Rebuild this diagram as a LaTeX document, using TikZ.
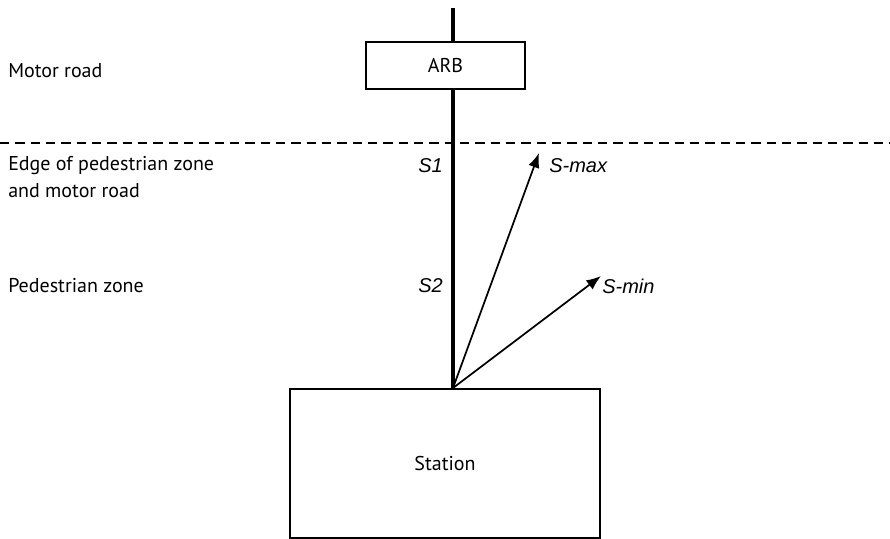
\documentclass[tikz,border=0pt]{standalone}
\usepackage{fontspec}
\setmainfont{PT Sans}
\newfontfamily\labelfont{Liberation Sans}
\usetikzlibrary{arrows.meta,positioning}
\tikzset{
  zonetext/.style={anchor=west, align=left, font=\fontsize{15}{20}\selectfont, inner sep=0pt},
  unitbox/.style={draw, fill=white, line width=1.7pt, font=\fontsize{15}{18}\selectfont, inner sep=0pt},
  sigtext/.style={font=\labelfont\itshape\fontsize{15}{18}\selectfont, inner sep=0pt},
  reach/.style={line width=1.3pt, -{Latex[length=11pt,width=8.5pt]}}
}
\begin{document}
\begin{tikzpicture}[x=0.75pt,y=-0.75pt]
  \useasboundingbox (0,0) rectangle (890,539);

  % zones on the left
  \node[zonetext] (motor) at (8,71) {Motor road};
  \node[zonetext] (edge) at (8,177) {Edge of pedestrian zone\\and motor road};
  \node[zonetext] (pedzone) at (8,286) {Pedestrian zone};
  \draw[line width=1pt, dash pattern=on 7pt off 4.5pt] (0,143) -- (890,143);

  % mast and units
  \coordinate (top) at (453,8);
  \coordinate (foot) at (453,388);
  \draw[line width=2.6pt] (top) -- (foot);
  \node[unitbox, minimum width=119pt, minimum height=35pt] (arb) at (445.5,65.5) {ARB};
  \node[unitbox, minimum width=232pt, minimum height=112pt, anchor=north] (station) at (445,388) {Station};

  % ranges
  \coordinate (smax) at (539,153);
  \coordinate (smin) at (601,276);
  \draw[reach] (foot) -- (smax);
  \draw[reach] (foot) -- (smin);
  \node[sigtext, anchor=west] (smaxlbl) at (549,166) {S-max};
  \node[sigtext, anchor=west] (sminlbl) at (602,286) {S-min};
  \node[sigtext, anchor=east] (s1) at (443,166) {S1};
  \node[sigtext, anchor=east] (s2) at (443,286) {S2};
\end{tikzpicture}
\end{document}
